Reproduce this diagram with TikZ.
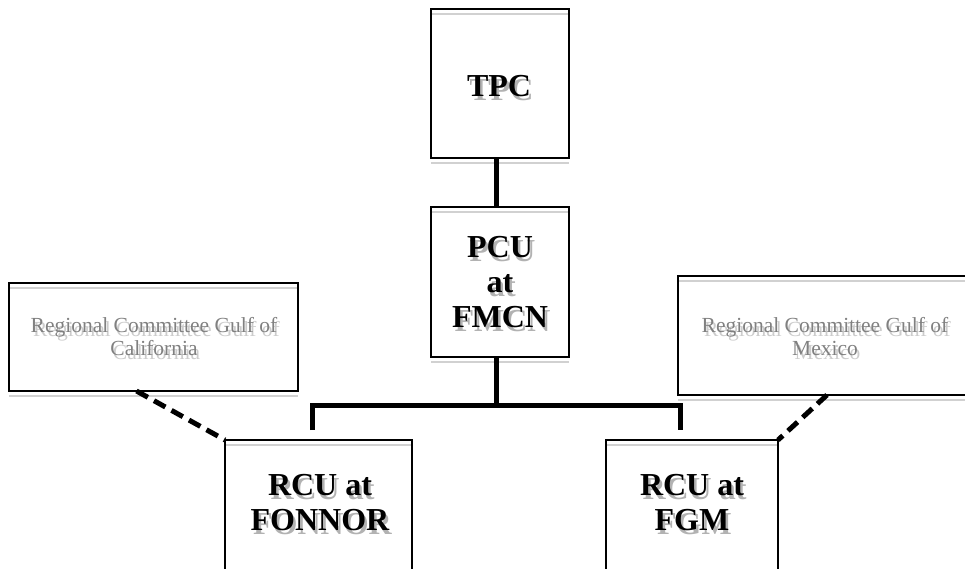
\documentclass[tikz,border=0pt]{standalone}
\usepackage{fontspec}
\setmainfont{Liberation Serif}
\usetikzlibrary{calc}
\tikzset{
  box/.style={draw, line width=2pt, inner sep=0pt, outer sep=0pt},
  shline/.style={draw=black!18, line width=2pt},
  big/.style={font=\fontsize{32}{35}\selectfont\bfseries, align=center, inner sep=0pt},
  bigsh/.style={big, text=black!30},
  small/.style={font=\fontsize{21.5}{23}\selectfont, align=center, inner sep=0pt, text=black!50},
  smallsh/.style={small, text=black!20},
  conn/.style={line width=5pt},
  dconn/.style={line width=5pt, dash pattern=on 13pt off 7pt},
}
\newcommand\shtxt[5]{%
  \node[#2sh] (#1s) at (#3+2.5,#4+4) {#5};
  \node[#2] (#1) at (#3,#4) {#5};}
\newcommand\topshade[1]{\draw[shline] ([yshift=-5pt,xshift=1pt]#1.north west) -- ([yshift=-5pt,xshift=-1pt]#1.north east);}
\newcommand\botshade[1]{\draw[shline] ([yshift=-5pt]#1.south west) -- ([yshift=-5pt]#1.south east);}
\begin{document}
\begin{tikzpicture}[x=1pt,y=-1pt]
\useasboundingbox (0,0) rectangle (965,569);
\clip (0,0) rectangle (965,569);
% text with shadows
\shtxt{tpct}{big}{499}{86}{TPC}
\shtxt{pcut}{big}{500}{282}{PCU\\at\\FMCN}
\shtxt{font}{big}{320}{503}{RCU at\\FONNOR}
\shtxt{fgmt}{big}{692}{503}{RCU at\\FGM}
\shtxt{gcalt}{small}{154}{337}{Regional Committee Gulf of\\California}
\shtxt{gmext}{small}{825}{337}{Regional Committee Gulf of\\Mexico}
% boxes
\node[box, minimum width=138pt, minimum height=149pt] (tpc) at (500,83.5) {};
\node[box, minimum width=138pt, minimum height=150pt] (pcu) at (500,282) {};
\node[box, minimum width=187pt, minimum height=150pt] (fon) at (318.5,515) {};
\node[box, minimum width=172pt, minimum height=150pt] (fgm) at (692,515) {};
\node[box, minimum width=289pt, minimum height=108pt] (gcal) at (153.5,337) {};
\node[box, minimum width=294pt, minimum height=119pt] (gmex) at (825,335.5) {};
% shading lines
\topshade{tpc}\botshade{tpc}
\topshade{pcu}\botshade{pcu}
\topshade{fon}\topshade{fgm}
\topshade{gcal}\botshade{gcal}
\topshade{gmex}\botshade{gmex}
% connectors
\coordinate (busmid) at (496,405);
\coordinate (busL) at (312,405);
\coordinate (busR) at (680,405);
\coordinate (dropL) at (312,430);
\coordinate (dropR) at (680,430);
\draw[conn] ([xshift=-4pt]tpc.south) -- ([xshift=-4pt]pcu.north);
\draw[conn] ([xshift=-4pt]pcu.south) -- (busmid);
\draw[conn] (dropL) -- (busL) -- (busR) -- (dropR);
\draw[dconn] ([xshift=-17pt]gcal.south) -- (fon.north west);
\draw[dconn] ([xshift=2pt]gmex.south) -- (fgm.north east);
\end{tikzpicture}
\end{document}
